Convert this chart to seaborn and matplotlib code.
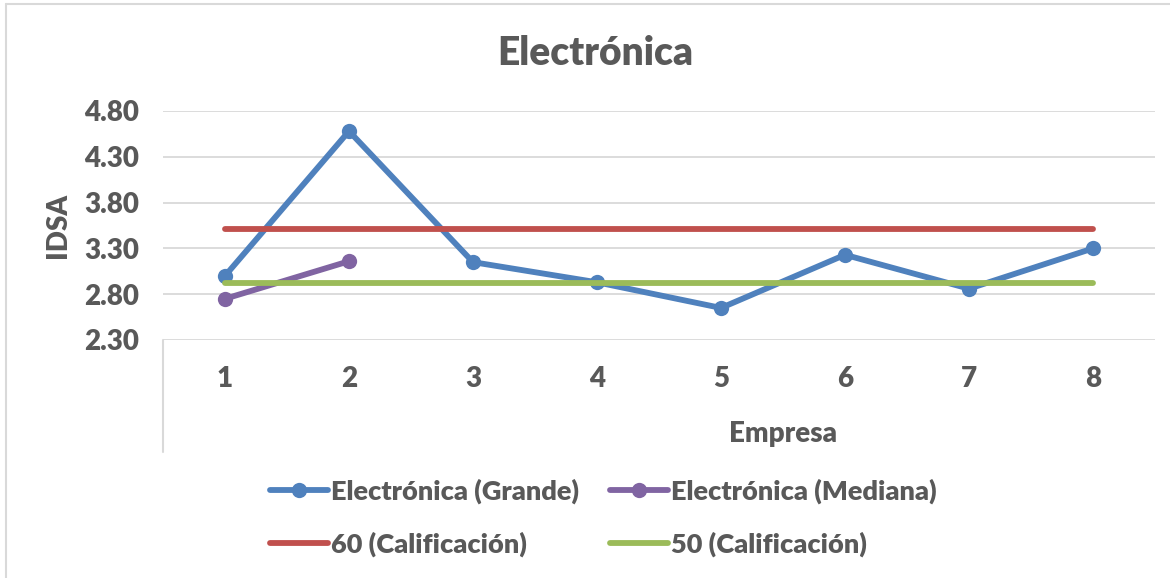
import matplotlib
matplotlib.use("Agg")
import matplotlib.pyplot as plt
from matplotlib.lines import Line2D
import seaborn as sns

# Data
empresa = [1, 2, 3, 4, 5, 6, 7, 8]
grande = [3.00, 4.58, 3.15, 2.93, 2.65, 3.23, 2.86, 3.30]
empresa_mediana = [1, 2]
mediana = [2.75, 3.16]
calif_60 = [3.51, 3.51, 3.51, 3.51, 3.51, 3.51, 3.51, 3.51]
calif_50 = [2.925, 2.925, 2.925, 2.925, 2.925, 2.925, 2.925, 2.925]
yticks = [2.30, 2.80, 3.30, 3.80, 4.30, 4.80]

title = "Electrónica"
labels = ["Electrónica (Grande)", "Electrónica (Mediana)",
          "60 (Calificación)", "50 (Calificación)"]

BLUE = "#4F81BD"
PURPLE = "#8064A2"
RED = "#C0504D"
GREEN = "#9BBB59"
TEXT = "#595959"
GRID = "#D9D9D9"
WEIGHT = "heavy"

sns.set_theme(style="white")
plt.rcParams["font.family"] = ["Lato", "DejaVu Sans"]
plt.rcParams["font.weight"] = WEIGHT

W, H = 1170, 578
fig = plt.figure(figsize=(W / 100, H / 100), dpi=100)
fig.patch.set_facecolor("white")

left, right, top, bottom = 163, 1155, 111, 340
ax = fig.add_axes([left / W, 1 - bottom / H, (right - left) / W, (bottom - top) / H])

line_kw = dict(linewidth=4.2, solid_capstyle="round")
sns.lineplot(x=empresa, y=grande, ax=ax, color=BLUE, marker="o", markersize=11,
             markeredgewidth=0, label=labels[0], **line_kw)
sns.lineplot(x=empresa_mediana, y=mediana, ax=ax, color=PURPLE, marker="o",
             markersize=11, markeredgewidth=0, label=labels[1], **line_kw)
sns.lineplot(x=empresa, y=calif_60, ax=ax, color=RED, label=labels[2], **line_kw)
sns.lineplot(x=empresa, y=calif_50, ax=ax, color=GREEN, label=labels[3], **line_kw)

ax.set_xlim(0.5, 8.5)
ax.set_ylim(2.30, 4.80)
ax.set_yticks(yticks)
ax.set_yticklabels([f"{v:.2f}" for v in yticks])
ax.set_xticks(empresa)
ax.set_xticklabels([str(e) for e in empresa])
ax.tick_params(axis="both", length=0, labelsize=20, labelcolor=TEXT)
ax.tick_params(axis="y", pad=17)
ax.tick_params(axis="x", pad=19)
for lab in ax.get_xticklabels() + ax.get_yticklabels():
    lab.set_fontweight(WEIGHT)

ax.grid(axis="y", color=GRID, linewidth=1.3)
ax.grid(axis="x", visible=False)
ax.set_axisbelow(True)
for s in ax.spines.values():
    s.set_visible(False)

# category axis divider below the value area
ax.add_line(Line2D([0, 0], [0, -(452 - bottom) / (bottom - top)], transform=ax.transAxes,
                   color=GRID, linewidth=1.5, clip_on=False))

ax.set_ylabel("IDSA", fontsize=20, fontweight=WEIGHT, color=TEXT)
ax.yaxis.label.set_verticalalignment("center")
ax.yaxis.set_label_coords((58 - left) / (right - left), 0.5)
ax.set_xlabel("Empresa", fontsize=20, fontweight=WEIGHT, color=TEXT)
ax.xaxis.label.set_verticalalignment("center")
ax.xaxis.set_label_coords((783 - left) / (right - left), -(434 - bottom) / (bottom - top))

fig.text(595 / W, 1 - 65 / H, title, ha="center", va="baseline", fontsize=28,
         fontweight=WEIGHT, color=TEXT)

# legend below the plot, two columns
handles, labs = ax.get_legend_handles_labels()
ax.get_legend().remove()
order = [0, 2, 1, 3]
leg = fig.legend([handles[i] for i in order], [labs[i] for i in order], ncol=2,
                 loc="center left", bbox_to_anchor=(270 / W, 1 - 517.5 / H),
                 frameon=False, fontsize=19.5, handlelength=2.15, handletextpad=0.1,
                 columnspacing=1.15, labelspacing=1.0, borderpad=0, borderaxespad=0)
for t in leg.get_texts():
    t.set_color(TEXT)
    t.set_fontweight(WEIGHT)

# chart area border (left and top edges)
fig.add_artist(Line2D([6 / W, 6 / W], [0, 1 - 4 / H], transform=fig.transFigure,
                      color=GRID, linewidth=1.5))
fig.add_artist(Line2D([6 / W, 1], [1 - 4 / H, 1 - 4 / H], transform=fig.transFigure,
                      color=GRID, linewidth=1.5))

fig.savefig("out.png", dpi=100, facecolor="white")
